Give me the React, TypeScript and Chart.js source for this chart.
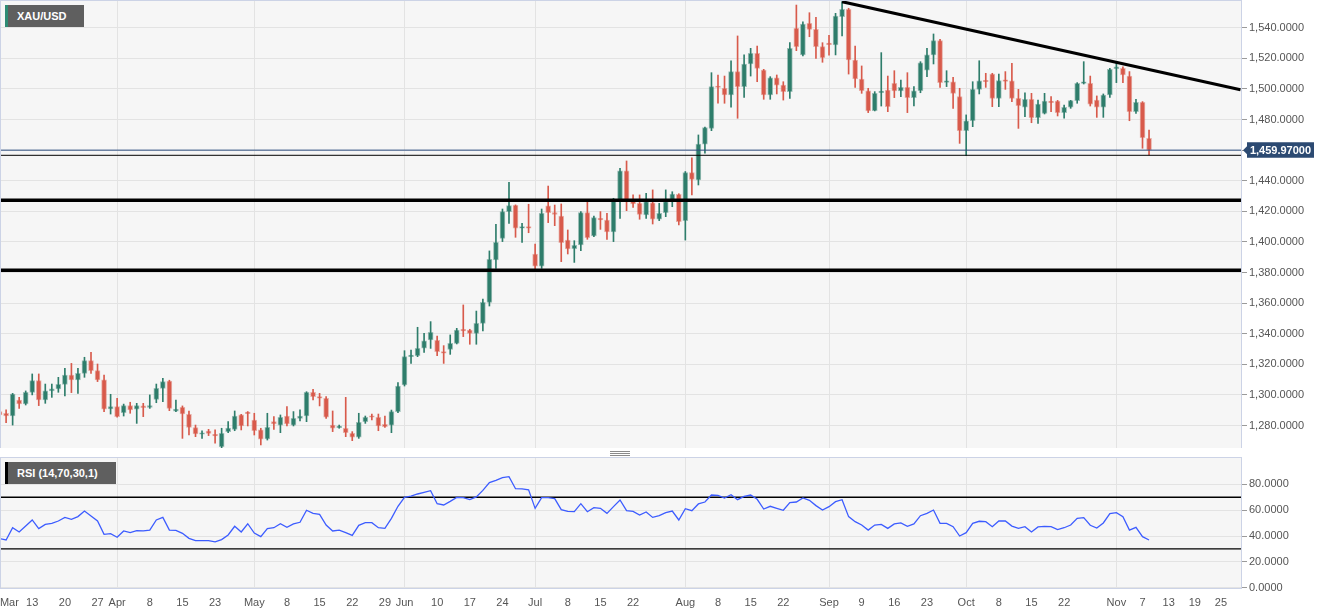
import React, { useEffect, useRef } from 'react';
import { Chart, registerables } from 'chart.js';

Chart.register(...registerables);

// Daily XAU/USD candles, Mar 6 2019 (index 0) .. Nov 8 2019 (index 176)
const opens = [1289.1, 1288.0, 1286.2, 1296.7, 1294.1, 1301.7, 1309.3, 1296.7, 1302.6, 1303.9,
  1306.9, 1313.0, 1309.8, 1314.1, 1322.4, 1315.9, 1309.8, 1290.8, 1292.3, 1288.4,
  1293.0, 1290.6, 1292.8, 1291.9, 1297.1, 1304.3, 1309.1, 1289.3, 1291.9, 1287.3,
  1278.6, 1274.3, 1276.4, 1274.0, 1266.2, 1276.0, 1277.5, 1286.9, 1288.6, 1283.6,
  1277.1, 1271.2, 1282.5, 1280.3, 1286.2, 1280.3, 1284.7, 1286.2, 1301.7, 1298.9,
  1297.8, 1280.3, 1278.6, 1278.2, 1274.9, 1272.3, 1282.5, 1286.2, 1285.4, 1280.8,
  1280.3, 1289.1, 1306.5, 1325.0, 1325.6, 1330.6, 1335.9, 1335.7, 1328.3, 1329.8,
  1333.7, 1342.6, 1342.4, 1340.2, 1346.8, 1360.5, 1388.2, 1402.3, 1419.8, 1423.9,
  1408.9, 1410.0, 1392.1, 1384.2, 1423.5, 1419.1, 1416.9, 1401.2, 1395.6, 1398.0,
  1419.1, 1403.9, 1415.4, 1414.3, 1406.5, 1426.3, 1446.4, 1426.7, 1425.2, 1417.6,
  1425.6, 1414.8, 1419.1, 1427.0, 1431.1, 1413.9, 1445.3, 1440.5, 1463.8, 1474.2,
  1501.5, 1500.4, 1496.0, 1511.3, 1501.5, 1516.3, 1523.2, 1512.3, 1496.0, 1507.3,
  1502.5, 1498.2, 1539.6, 1522.2, 1542.8, 1538.9, 1527.6, 1529.3, 1528.7, 1547.2,
  1552.0, 1518.9, 1506.5, 1498.8, 1485.8, 1497.5, 1499.3, 1503.6, 1498.6, 1501.0,
  1494.3, 1498.8, 1512.3, 1522.2, 1531.5, 1504.3, 1504.7, 1494.9, 1472.7, 1479.2,
  1499.7, 1505.2, 1509.7, 1493.8, 1505.8, 1505.2, 1493.8, 1488.0, 1493.2, 1481.2,
  1484.0, 1492.1, 1492.1, 1484.5, 1488.0, 1492.3, 1503.6, 1503.6, 1492.7, 1488.0,
  1496.0, 1513.2, 1513.4, 1508.4, 1485.1, 1491.2, 1467.7];

const highs = [1291.2, 1290.2, 1301.0, 1298.4, 1302.6, 1313.7, 1313.7, 1307.1, 1307.1, 1311.5,
  1317.4, 1320.6, 1317.4, 1324.6, 1327.8, 1320.2, 1313.0, 1300.4, 1297.8, 1294.0,
  1295.2, 1294.5, 1294.5, 1300.0, 1307.1, 1310.8, 1309.6, 1296.7, 1292.8, 1289.5,
  1280.3, 1276.6, 1277.5, 1277.1, 1278.2, 1282.5, 1289.5, 1287.3, 1289.1, 1288.0,
  1278.2, 1288.0, 1285.8, 1286.9, 1292.3, 1289.1, 1290.2, 1302.1, 1303.7, 1301.0,
  1298.9, 1289.5, 1280.3, 1298.4, 1276.0, 1288.0, 1286.2, 1287.5, 1287.5, 1286.2,
  1290.1, 1308.0, 1328.9, 1329.3, 1344.2, 1340.2, 1347.9, 1338.5, 1332.2, 1339.2,
  1343.5, 1358.8, 1342.9, 1354.8, 1362.7, 1394.1, 1411.5, 1421.5, 1438.9, 1424.2,
  1412.1, 1424.6, 1398.6, 1421.5, 1436.5, 1424.1, 1424.8, 1407.8, 1400.8, 1419.8,
  1426.3, 1416.9, 1419.8, 1418.7, 1428.5, 1448.1, 1452.9, 1430.7, 1430.7, 1431.7,
  1434.0, 1425.2, 1434.0, 1432.8, 1431.5, 1446.0, 1455.0, 1469.9, 1475.0, 1510.6,
  1509.1, 1508.4, 1518.4, 1534.6, 1522.2, 1526.5, 1528.0, 1512.8, 1508.0, 1509.1,
  1504.7, 1530.2, 1554.8, 1543.9, 1549.8, 1546.8, 1530.2, 1535.0, 1549.4, 1557.0,
  1552.7, 1528.0, 1515.0, 1500.4, 1498.2, 1523.7, 1508.4, 1511.9, 1505.8, 1510.6,
  1501.5, 1517.8, 1526.5, 1535.9, 1532.4, 1511.9, 1507.6, 1500.4, 1483.0, 1504.7,
  1518.4, 1510.2, 1510.2, 1509.7, 1511.3, 1516.7, 1499.7, 1497.5, 1497.1, 1492.7,
  1497.1, 1494.9, 1492.5, 1489.5, 1492.5, 1504.1, 1517.8, 1508.4, 1495.4, 1496.7,
  1513.4, 1516.7, 1514.5, 1511.3, 1493.2, 1491.7, 1473.1];

const lows = [1283.6, 1281.9, 1280.3, 1291.2, 1293.4, 1300.0, 1293.0, 1294.5, 1298.4, 1301.7,
  1299.3, 1301.5, 1301.0, 1311.5, 1314.1, 1308.7, 1289.1, 1287.5, 1285.4, 1286.2,
  1288.0, 1281.4, 1285.8, 1291.2, 1294.9, 1295.6, 1289.7, 1289.1, 1271.6, 1273.8,
  1272.7, 1271.6, 1273.4, 1268.4, 1265.1, 1275.3, 1276.6, 1277.1, 1279.7, 1273.8,
  1267.3, 1270.5, 1277.5, 1275.3, 1279.7, 1279.7, 1283.0, 1282.5, 1296.7, 1292.8,
  1284.7, 1276.0, 1278.2, 1272.7, 1270.1, 1271.6, 1281.4, 1283.6, 1276.6, 1278.8,
  1275.3, 1288.4, 1305.8, 1320.6, 1325.0, 1327.8, 1330.4, 1325.6, 1320.6, 1326.5,
  1333.3, 1338.1, 1333.1, 1333.1, 1341.8, 1358.1, 1382.7, 1400.2, 1412.1, 1403.0,
  1399.7, 1406.0, 1382.0, 1382.7, 1412.6, 1410.6, 1387.1, 1392.1, 1386.6, 1394.3,
  1401.7, 1403.4, 1408.2, 1401.7, 1400.2, 1415.3, 1420.4, 1422.6, 1414.8, 1415.4,
  1411.7, 1413.9, 1416.5, 1423.0, 1411.1, 1401.2, 1430.7, 1437.2, 1458.0, 1472.7,
  1490.6, 1490.6, 1488.0, 1480.8, 1494.5, 1508.4, 1504.7, 1493.2, 1493.2, 1496.7,
  1492.7, 1493.8, 1525.0, 1521.5, 1534.1, 1520.0, 1517.4, 1522.0, 1522.2, 1534.6,
  1509.7, 1501.0, 1497.1, 1484.5, 1485.6, 1488.8, 1485.1, 1494.3, 1494.9, 1484.5,
  1488.8, 1497.5, 1508.0, 1516.3, 1501.0, 1501.5, 1487.3, 1464.4, 1456.5, 1475.3,
  1496.7, 1501.0, 1488.4, 1488.4, 1499.7, 1491.7, 1474.2, 1481.9, 1477.9, 1477.5,
  1483.6, 1485.1, 1482.3, 1480.8, 1487.3, 1490.6, 1503.2, 1488.8, 1481.4, 1481.4,
  1494.5, 1504.1, 1504.1, 1479.2, 1484.0, 1461.2, 1456.8];

const closes = [1286.9, 1286.2, 1300.6, 1294.1, 1301.7, 1309.3, 1296.7, 1302.6, 1303.9, 1306.9,
  1313.0, 1309.8, 1314.1, 1322.4, 1315.9, 1309.8, 1290.6, 1292.3, 1285.8, 1293.0,
  1290.2, 1293.0, 1291.7, 1293.0, 1304.3, 1308.7, 1291.2, 1290.8, 1287.5, 1278.8,
  1274.5, 1274.9, 1274.9, 1273.2, 1274.9, 1278.4, 1286.2, 1279.7, 1287.8, 1276.6,
  1271.0, 1278.8, 1281.0, 1285.4, 1281.0, 1284.7, 1286.2, 1301.7, 1298.9, 1297.8,
  1285.4, 1278.2, 1279.7, 1275.3, 1272.3, 1282.1, 1285.4, 1285.4, 1279.7, 1279.3,
  1289.1, 1305.8, 1325.0, 1326.1, 1330.4, 1335.4, 1340.9, 1328.3, 1327.2, 1333.7,
  1342.4, 1341.8, 1340.2, 1346.8, 1360.5, 1388.6, 1399.7, 1419.8, 1423.7, 1408.9,
  1410.0, 1408.9, 1384.2, 1418.7, 1419.1, 1418.0, 1399.5, 1395.4, 1397.8, 1419.1,
  1402.8, 1415.9, 1414.3, 1406.5, 1427.4, 1446.4, 1426.3, 1424.8, 1418.0, 1426.3,
  1414.8, 1418.7, 1426.3, 1431.3, 1413.2, 1445.3, 1440.9, 1464.0, 1474.7, 1501.5,
  1500.9, 1496.0, 1511.3, 1501.5, 1516.3, 1523.2, 1513.4, 1496.0, 1507.3, 1502.5,
  1498.2, 1526.5, 1527.6, 1542.4, 1538.9, 1527.6, 1520.4, 1528.9, 1547.6, 1552.0,
  1518.9, 1506.5, 1498.8, 1485.6, 1497.1, 1498.6, 1488.4, 1498.6, 1501.0, 1494.3,
  1498.8, 1517.1, 1522.2, 1531.5, 1504.1, 1505.2, 1497.1, 1472.7, 1479.2, 1499.7,
  1505.2, 1504.7, 1493.8, 1505.4, 1504.9, 1493.8, 1489.0, 1493.2, 1481.2, 1490.1,
  1492.1, 1491.0, 1484.5, 1488.0, 1492.3, 1503.6, 1504.5, 1490.1, 1488.0, 1496.0,
  1512.8, 1514.5, 1509.1, 1485.1, 1491.2, 1468.1, 1459.97];

const rsiValues = [38.0, 36.9, 46.4, 43.1, 47.7, 52.4, 45.7, 49.0, 49.8, 51.6,
  54.4, 52.9, 55.0, 59.3, 55.5, 51.6, 41.3, 41.8, 39.0, 43.9,
  42.6, 44.1, 43.9, 44.6, 52.4, 54.4, 44.6, 44.4, 42.1, 38.2,
  36.4, 36.4, 36.4, 35.4, 37.2, 40.8, 47.5, 43.1, 49.5, 42.3,
  39.5, 45.7, 46.4, 49.5, 46.7, 49.3, 50.6, 59.9, 57.5, 56.8,
  48.5, 43.9, 44.6, 42.6, 40.5, 48.3, 50.3, 50.3, 46.4, 45.9,
  53.7, 63.0, 69.9, 70.9, 72.5, 73.8, 75.1, 65.0, 64.0, 66.8,
  69.9, 69.7, 68.1, 70.2, 75.3, 81.3, 83.1, 85.1, 85.9, 76.6,
  76.4, 75.8, 61.4, 69.7, 69.7, 68.9, 60.4, 59.0, 58.8, 65.0,
  58.8, 61.9, 61.4, 57.5, 62.7, 67.9, 59.6, 59.1, 56.2, 58.6,
  54.4, 55.7, 58.1, 59.3, 52.4, 61.1, 59.6, 64.8, 66.3, 71.7,
  71.5, 69.4, 72.0, 68.1, 70.7, 71.7, 68.4, 60.9, 63.0, 61.4,
  59.9, 65.8, 66.3, 69.4, 67.6, 63.5, 60.1, 62.7, 66.6, 68.1,
  55.0, 51.1, 48.5, 44.6, 48.5, 49.0, 45.9, 49.3, 50.1, 47.5,
  49.3, 55.7, 57.5, 60.1, 49.8, 49.8, 47.2, 40.0, 42.6, 49.8,
  51.4, 51.1, 47.2, 51.6, 51.6, 47.7, 45.9, 47.2, 43.1, 47.0,
  47.5, 47.2, 44.9, 46.4, 48.5, 53.7, 54.2, 48.3, 46.2, 50.1,
  57.3, 58.1, 55.0, 44.6, 46.7, 39.5, 36.9];

const xTickPositions = [1.5, 5, 10, 15, 18, 23, 28, 33, 39, 44, 49, 54, 59, 62, 67, 72, 77, 82, 87, 92, 97,
  105, 110, 115, 120, 127, 132, 137, 142, 148, 153, 158, 163, 171, 175, 179, 183, 187];
const xTickLabels = ['Mar', '13', '20', '27', 'Apr', '8', '15', '23', 'May', '8', '15', '22', '29', 'Jun', '10', '17', '24',
  'Jul', '8', '15', '22', 'Aug', '8', '15', '22', 'Sep', '9', '16', '23', 'Oct', '8', '15', '22', 'Nov', '7', '13', '19', '25'];
const monthGridPositions = [18, 39, 62, 82, 105, 127, 148, 171];

const priceTicks = [1280, 1300, 1320, 1340, 1360, 1380, 1400, 1420, 1440, 1460, 1480, 1500, 1520, 1540];
const rsiTicks = [0, 20, 40, 60, 80];

const thickLevels = [1427.2, 1381.4];
const thinLevel = 1456.6;
const lastPrice = 1459.97;
const trendIdx = [129, 190];
const trendPrice = [1557.0, 1499.4];
const rsiBands = [70, 30];

const FONT = '"Liberation Sans", Arial, Helvetica, sans-serif';
const GREEN = '#2e7d6b';
const RED = '#d85a4b';
const GREEN_EDGE = 'rgba(46,125,107,0.45)';
const RED_EDGE = 'rgba(216,90,75,0.45)';
const GRID = '#e3e3e3';
const FRAME = '#ccd3e6';
const PLOT_BG = '#f6f6f6';
const LABEL = '#555555';

const X_MIN = 0.219;
const X_MAX = 190.08;
const Y_MIN = 1265.3;
const Y_MAX = 1557.45;
const RSI_MIN = -0.23;
const RSI_MAX = 100.35;

function fmt(v: number, d: number) {
  return v.toLocaleString('en-US', { minimumFractionDigits: d, maximumFractionDigits: d });
}

const panelPlugin = {
  id: 'panelFrame',
  beforeDraw(chart: any) {
    const { ctx, chartArea: a } = chart;
    ctx.save();
    ctx.fillStyle = PLOT_BG;
    ctx.fillRect(a.left, a.top, a.right - a.left, a.bottom - a.top);
    ctx.restore();
  },
  afterDatasetsDraw(chart: any) {
    const { ctx, chartArea: a } = chart;
    ctx.save();
    ctx.strokeStyle = FRAME;
    ctx.lineWidth = 1;
    ctx.strokeRect(a.left - 0.5, a.top - 0.5, a.right - a.left + 1, a.bottom - a.top + 1);
    ctx.restore();
  },
};

const priceTagPlugin = {
  id: 'priceTag',
  afterDraw(chart: any) {
    const { ctx, chartArea: a, scales } = chart;
    const y = scales.y.getPixelForValue(lastPrice);
    const R = a.right;
    ctx.save();
    ctx.fillStyle = '#2c4a72';
    ctx.beginPath();
    ctx.moveTo(R + 2, y);
    ctx.lineTo(R + 6, y - 4);
    ctx.lineTo(R + 6, y - 8);
    ctx.lineTo(R + 73, y - 8);
    ctx.lineTo(R + 73, y + 7.5);
    ctx.lineTo(R + 6, y + 7.5);
    ctx.lineTo(R + 6, y + 4);
    ctx.closePath();
    ctx.fill();
    ctx.fillStyle = '#ffffff';
    ctx.font = 'bold 11px ' + FONT;
    ctx.textAlign = 'center';
    ctx.textBaseline = 'middle';
    ctx.fillText(fmt(lastPrice, 5), R + 39.5, y + 0.5);
    ctx.restore();
  },
};

function xScale(showLabels: boolean) {
  return {
    type: 'linear',
    min: X_MIN,
    max: X_MAX,
    offset: false,
    grid: {
      offset: false,
      drawTicks: false,
      lineWidth: 1,
      color: (c: any) => (c.tick && monthGridPositions.includes(c.tick.value) ? GRID : 'rgba(0,0,0,0)'),
    },
    border: { display: false },
    ticks: {
      display: showLabels,
      autoSkip: false,
      maxRotation: 0,
      minRotation: 0,
      padding: 8,
      color: LABEL,
      font: { family: FONT, size: 11 },
      callback: (v: any) => {
        const k = xTickPositions.indexOf(v);
        return k >= 0 ? xTickLabels[k] : '';
      },
    },
    afterBuildTicks: (s: any) => {
      s.ticks = xTickPositions.map((v) => ({ value: v }));
    },
    afterFit: (s: any) => {
      s.height = showLabels ? 27 : 0;
      s.paddingLeft = 0;
      s.paddingRight = 0;
    },
  };
}

function yScale(min: number, max: number, ticks: number[]) {
  return {
    type: 'linear',
    position: 'right',
    min,
    max,
    beginAtZero: false,
    grid: { color: GRID, drawTicks: true, tickLength: 6, tickColor: '#9a9a9a', lineWidth: 1 },
    border: { display: false },
    ticks: {
      color: LABEL,
      padding: 2,
      font: { family: FONT, size: 11 },
      callback: (v: any) => fmt(Number(v), 4),
    },
    afterBuildTicks: (s: any) => {
      s.ticks = ticks.map((v) => ({ value: v }));
    },
    afterFit: (s: any) => {
      s.width = 90;
      s.paddingTop = 0;
      s.paddingBottom = 0;
    },
  };
}

function hLine(level: number, color: string, width: number, order: number) {
  return {
    type: 'line',
    data: [{ x: X_MIN, y: level }, { x: X_MAX, y: level }],
    borderColor: color,
    borderWidth: width,
    pointRadius: 0,
    clip: 0,
    order,
  };
}

export default function App() {
  const mainRef = useRef<HTMLCanvasElement>(null);
  const rsiRef = useRef<HTMLCanvasElement>(null);

  useEffect(() => {
    const idx = opens.map((_, i) => i);
    const up = (i: number) => closes[i] >= opens[i];

    const main = new Chart(mainRef.current as HTMLCanvasElement, {
      type: 'bar',
      data: {
        datasets: [
          {
            type: 'line',
            data: trendIdx.map((x, k) => ({ x, y: trendPrice[k] })),
            borderColor: '#000000',
            borderWidth: 3,
            pointRadius: 0,
            clip: 0,
            order: 0,
          } as any,
          hLine(thickLevels[0], '#000000', 3.5, 0),
          hLine(thickLevels[1], '#000000', 3.5, 0),
          hLine(thinLevel, '#000000', 1, 0),
          hLine(lastPrice, '#2b4c7e', 1, 0),
          {
            type: 'bar',
            data: idx.map((i) => ({ x: i, y: [opens[i], closes[i]] })),
            backgroundColor: idx.map((i) => (up(i) ? GREEN : RED)),
            borderColor: idx.map((i) => (up(i) ? GREEN_EDGE : RED_EDGE)),
            borderWidth: 1,
            borderSkipped: false,
            barThickness: 5,
            minBarLength: 1.5,
            grouped: false,
            order: 2,
          },
          {
            type: 'bar',
            data: idx.map((i) => ({ x: i, y: [lows[i], highs[i]] })),
            backgroundColor: idx.map((i) => (up(i) ? GREEN : RED)),
            borderWidth: 0,
            barThickness: 1,
            grouped: false,
            order: 3,
          },
        ] as any,
      },
      options: {
        responsive: false,
        animation: false,
        events: [],
        layout: { padding: { left: 1, top: 1, right: 0, bottom: 0 } },
        plugins: { legend: { display: false }, tooltip: { enabled: false } },
        scales: {
          x: xScale(false) as any,
          y: yScale(Y_MIN, Y_MAX, priceTicks) as any,
        },
      },
      plugins: [panelPlugin, priceTagPlugin],
    });

    const rsi = new Chart(rsiRef.current as HTMLCanvasElement, {
      type: 'line',
      data: {
        datasets: [
          {
            data: rsiValues.map((v, i) => ({ x: i, y: v })),
            borderColor: '#3c5cff',
            borderWidth: 1.3,
            pointRadius: 0,
            tension: 0,
            order: 0,
          },
          hLine(rsiBands[0], '#000000', 1.3, 1) as any,
          hLine(rsiBands[1], '#000000', 1.3, 1) as any,
        ],
      },
      options: {
        responsive: false,
        animation: false,
        events: [],
        layout: { padding: { left: 1, top: 1, right: 0, bottom: 0 } },
        plugins: { legend: { display: false }, tooltip: { enabled: false } },
        scales: {
          x: xScale(true) as any,
          y: yScale(RSI_MIN, RSI_MAX, rsiTicks) as any,
        },
      },
      plugins: [panelPlugin],
    });

    return () => {
      main.destroy();
      rsi.destroy();
    };
  }, []);

  const tagBox = (top: number, width: number, stripe: string, text: string) => (
    <div
      style={{
        position: 'absolute',
        left: 5,
        top,
        width,
        height: 22,
        boxSizing: 'border-box',
        background: '#5f5f5f',
        borderLeft: `3px solid ${stripe}`,
        color: '#ffffff',
        fontFamily: FONT,
        fontSize: 11,
        fontWeight: 'bold',
        lineHeight: '22px',
        paddingLeft: 9,
        whiteSpace: 'nowrap',
        zIndex: 2,
      }}
    >
      {text}
    </div>
  );

  return (
    <div
      style={{
        position: 'absolute',
        left: 0,
        top: 0,
        width: 1331,
        height: 615,
        background: '#ffffff',
        overflow: 'hidden',
      }}
    >
      <canvas
        ref={mainRef}
        width={1331}
        height={448}
        style={{ position: 'absolute', left: 0, top: 0, width: 1331, height: 448 }}
      />
      <canvas
        ref={rsiRef}
        width={1331}
        height={158}
        style={{ position: 'absolute', left: 0, top: 457, width: 1331, height: 158 }}
      />
      {[451, 453, 455].map((t) => (
        <div key={t} style={{ position: 'absolute', left: 610, top: t, width: 20, height: 1, background: '#8a8a8a' }} />
      ))}
      {tagBox(5, 79, '#2e8b74', 'XAU/USD')}
      {tagBox(462, 111, '#000000', 'RSI (14,70,30,1)')}
    </div>
  );
}
